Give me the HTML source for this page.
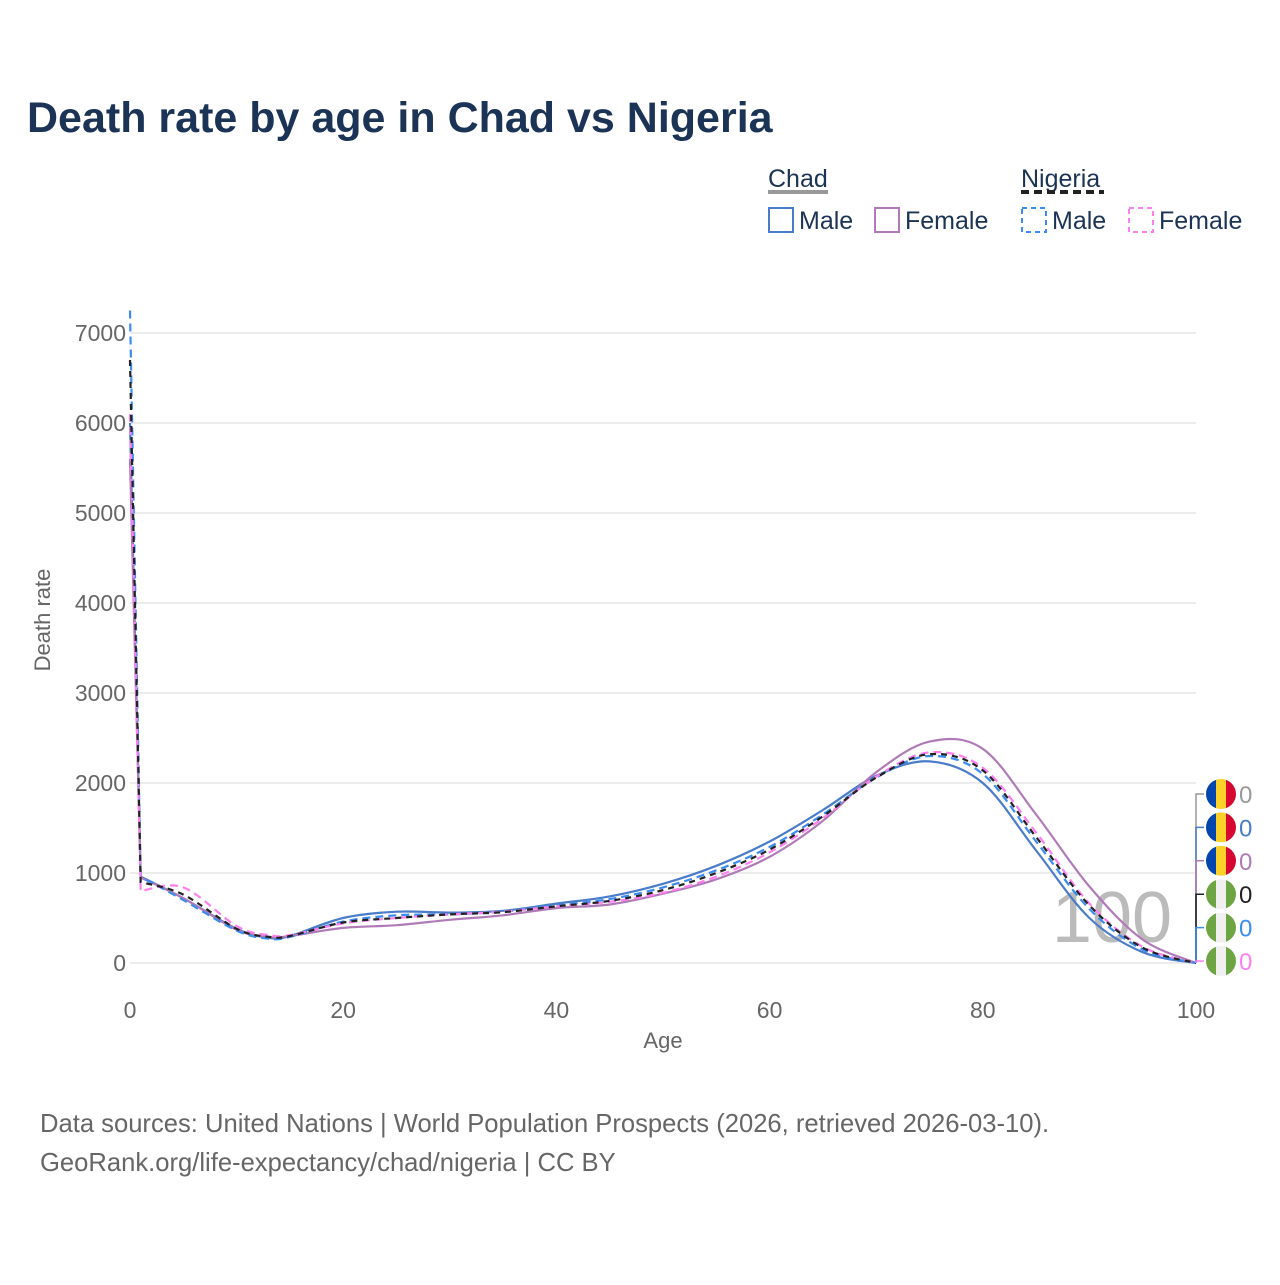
<!DOCTYPE html>
<html><head><meta charset="utf-8">
<style>
body{margin:0;background:#fff;font-family:"Liberation Sans",sans-serif;}
svg text{font-family:"Liberation Sans",sans-serif;}
</style></head>
<body>
<svg id="chart" width="1280" height="1280" viewBox="0 0 1280 1280" xmlns="http://www.w3.org/2000/svg">
<text x="27" y="132" font-size="43" font-weight="bold" fill="#1b3355">Death rate by age in Chad vs Nigeria</text>
<g font-size="25" fill="#1b3355">
 <text x="768" y="187">Chad</text>
 <line x1="768" y1="192" x2="828" y2="192" stroke="#999" stroke-width="4"/>
 <text x="1021" y="187">Nigeria</text>
 <line x1="1021" y1="192" x2="1104" y2="192" stroke="#222" stroke-width="4" stroke-dasharray="8,5"/>
 <g><rect x="769" y="208" width="24" height="24" fill="none" stroke="#4a7cc9" stroke-width="2"/><text x="799" y="229">Male</text></g>
 <g><rect x="875" y="208" width="24" height="24" fill="none" stroke="#b07ab8" stroke-width="2"/><text x="905" y="229">Female</text></g>
 <g><rect x="1022" y="208" width="24" height="24" fill="none" stroke="#3b8cf0" stroke-width="2" stroke-dasharray="5,4"/><text x="1052" y="229">Male</text></g>
 <g><rect x="1129" y="208" width="24" height="24" fill="none" stroke="#ff7ff0" stroke-width="2" stroke-dasharray="5,4"/><text x="1159" y="229">Female</text></g>
</g>
<g id="grid"></g>
<g id="axes" font-size="23" fill="#666"></g>
<text x="663" y="1048" font-size="22" fill="#666" text-anchor="middle">Age</text>
<text transform="translate(50,620) rotate(-90)" font-size="22" fill="#666" text-anchor="middle">Death rate</text>
<text x="1112" y="942" font-size="72" fill="#bbb" text-anchor="middle">100</text>
<g id="series"></g>
<g id="endlabels"></g>
<text x="40" y="1132" font-size="25.6" fill="#666">Data sources: United Nations | World Population Prospects (2026, retrieved 2026-03-10).</text>
<text x="40" y="1171" font-size="25.6" fill="#666">GeoRank.org/life-expectancy/chad/nigeria | CC BY</text>
</svg>
<script>
const ages=[0,1,5,10,13,15,20,25,30,35,40,45,50,55,60,65,70,75,80,85,90,95,100];
const chadMale=[6000,960,720,380,280,300,500,570,560,580,660,740,880,1080,1350,1700,2080,2240,2000,1250,500,120,0];
const chadFemale=[5600,950,720,370,290,300,390,420,480,530,610,650,770,930,1180,1580,2120,2460,2380,1650,850,260,0];
const nigeriaMale=[7250,960,700,360,270,290,460,530,540,570,640,710,840,1030,1290,1650,2060,2300,2100,1350,600,150,0];
const nigeriaFemale=[6100,800,840,410,310,310,440,500,540,570,630,680,780,960,1230,1610,2070,2340,2170,1450,660,180,0];
const nigeriaTotal=[6700,900,760,380,290,300,450,500,540,565,630,690,810,1000,1260,1630,2060,2320,2140,1400,640,170,0];
const xTicks=[0,20,40,60,80,100];
const yTicks=[0,1000,2000,3000,4000,5000,6000,7000];
const NS='http://www.w3.org/2000/svg';
const X=a=>130+a*10.66, Y=v=>963-v*0.09;
const grid=document.getElementById('grid'),axes=document.getElementById('axes');
yTicks.forEach(t=>{
 const l=document.createElementNS(NS,'line');
 
 
 l.setAttribute('x1',130);l.setAttribute('x2',1196);l.setAttribute('y1',Y(t));l.setAttribute('y2',Y(t));
 l.setAttribute('stroke','#e6e6e6');l.setAttribute('stroke-width','1.5');grid.appendChild(l);
 const tx=document.createElementNS(NS,'text');
 
 
 tx.setAttribute('x',126);tx.setAttribute('y',Y(t)+8);tx.setAttribute('text-anchor','end');tx.textContent=t;axes.appendChild(tx);
});
xTicks.forEach(t=>{
 const tx=document.createElementNS(NS,'text');
 
 
 tx.setAttribute('x',X(t));tx.setAttribute('y',1018);tx.setAttribute('text-anchor','middle');tx.textContent=t;axes.appendChild(tx);
});
function pathD(vals){
 const p=ages.map((a,i)=>[X(a),Y(vals[i])]);
 let d='M'+p[0][0]+','+p[0][1];
 for(let i=0;i<p.length-1;i++){
  if(i===0){d+=' L'+p[1][0]+','+p[1][1];continue;}
  const p0=p[i-1],p1=p[i],p2=p[i+1],p3=p[i+2]||p2;
  const q0=i===1?p1:p0;
  const c1=[p1[0]+(p2[0]-q0[0])/6,p1[1]+(p2[1]-q0[1])/6];
  const c2=[p2[0]-(p3[0]-p1[0])/6,p2[1]-(p3[1]-p1[1])/6];
  d+=' C'+c1+' '+c2+' '+p2;
 }
 return d;
}
const seriesDefs=[
 [chadMale,'#4a7cc9','','chad-male-line'],
 [chadFemale,'#b07ab8','','chad-female-line'],
 [nigeriaMale,'#3b8cf0','8,5','nigeria-male-line'],
 [nigeriaFemale,'#ff7ff0','8,5','nigeria-female-line'],
 [nigeriaTotal,'#222','6,5','nigeria-total-line']
];
const sg=document.getElementById('series');
seriesDefs.forEach(s=>{
 const p=document.createElementNS(NS,'path');
 
 
 p.setAttribute('d',pathD(s[0]));p.setAttribute('fill','none');p.setAttribute('stroke',s[1]);
 p.setAttribute('stroke-width','2.2');if(s[2])p.setAttribute('stroke-dasharray',s[2]);
 sg.appendChild(p);
});
const labelColors=['#999','#4a7cc9','#b07ab8','#222','#3b8cf0','#ff7ff0'];
const eg=document.getElementById('endlabels');
labelColors.forEach((c,i)=>{
 const y=794+i*33.4, chad=i<3;
 const ln=document.createElementNS(NS,'path');
 
 
 ln.setAttribute('d','M1196,963 L1196,'+y+' L1204,'+y);ln.setAttribute('stroke',c);ln.setAttribute('fill','none');ln.setAttribute('stroke-width','1.5');
 eg.appendChild(ln);
 const g=document.createElementNS(NS,'g');
 
 
 const cols=chad?['#0046ae','#fdd02a','#d80731']:['#6ea544','#f0f0f0','#6ea544'];
 const id='cp'+i;
 g.innerHTML='<clipPath id="'+id+'"><circle cx="1221" cy="'+y+'" r="15"/></clipPath><g clip-path="url(#'+id+')">'+
  cols.map((cc,k)=>'<rect x="'+(1206+k*10)+'" y="'+(y-15)+'" width="10.5" height="30" fill="'+cc+'"/>').join('')+'</g>';
 eg.appendChild(g);
 const t=document.createElementNS(NS,'text');
 
 
 t.setAttribute('x',1239);t.setAttribute('y',y+9);t.setAttribute('font-size','24');t.setAttribute('fill',c);t.textContent='0';
 eg.appendChild(t);
});
</script>
</body></html>
